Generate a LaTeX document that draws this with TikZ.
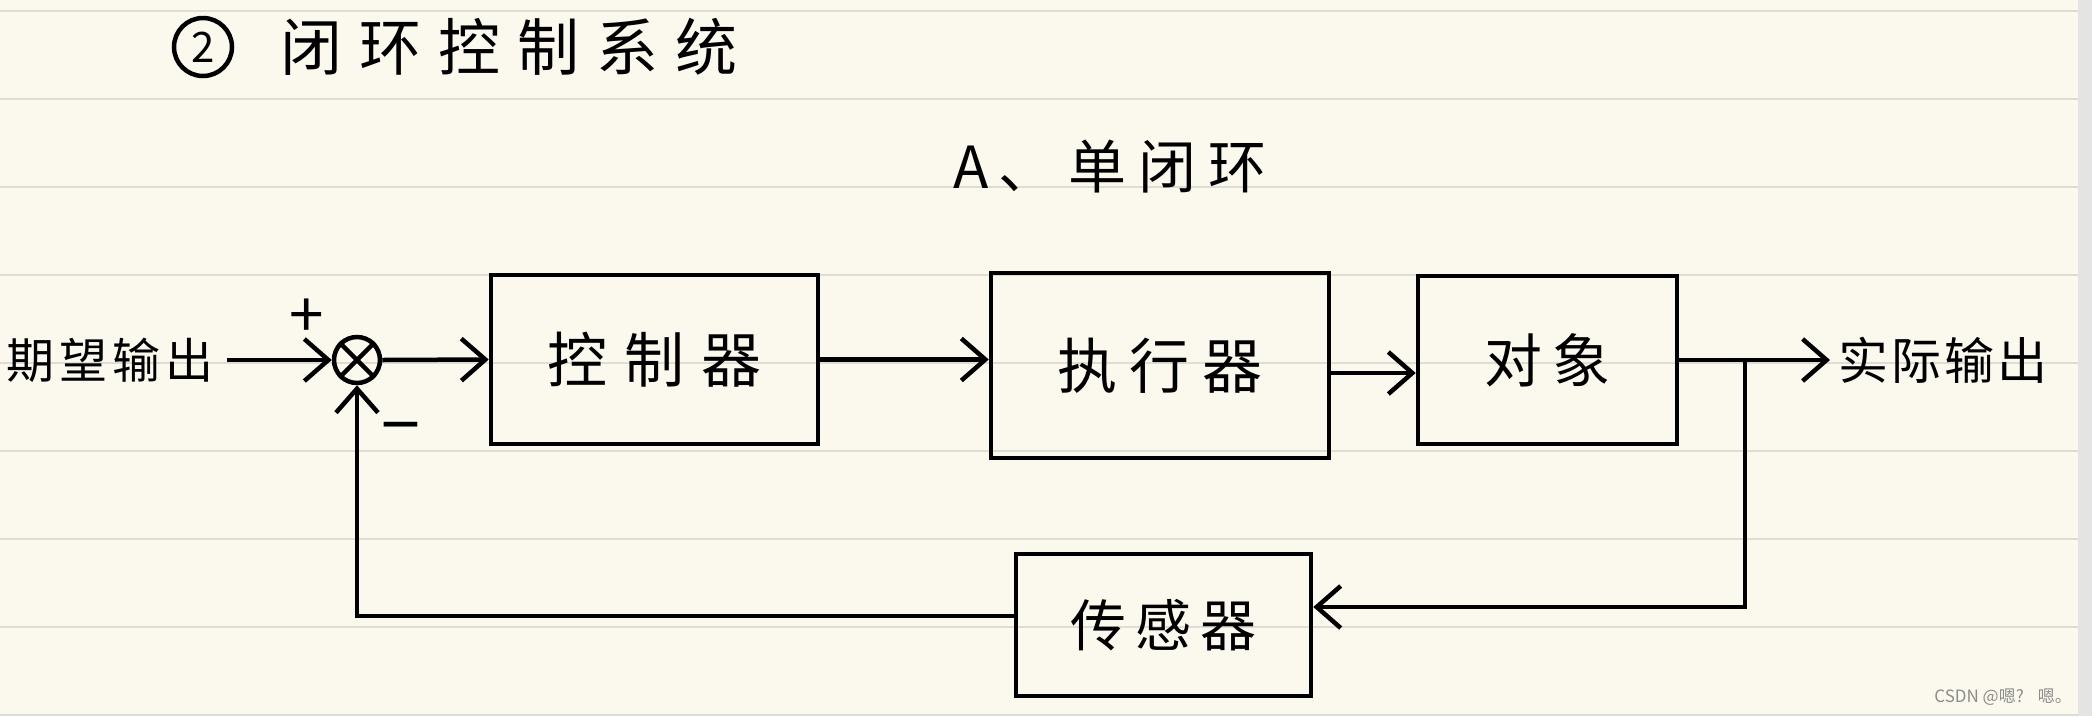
\documentclass[tikz,border=0pt]{standalone}
\usepackage{fontspec}
\setmainfont{Noto Sans CJK SC}
\usetikzlibrary{arrows.meta}
\definecolor{paper}{HTML}{FBF9EE}
\definecolor{rulec}{HTML}{DFDDD3}
\definecolor{band}{HTML}{E4E4E2}
\definecolor{wm}{HTML}{8C8C8C}
\newcommand\cg[1][14pt]{\hspace{#1}}
\newcommand\fs[1]{\fontsize{#1}{#1}\selectfont}
\begin{document}
\begin{tikzpicture}[x=1pt,y=-1pt,
  ink/.style={line width=4.5pt, black},
  arr/.style={ink, -{Straight Barb[length=24pt,width=42pt]}},
  blk/.style={draw, line width=4.5pt, inner sep=0pt},
  rl/.style={rulec, line width=2pt}]
\useasboundingbox (0,0) rectangle (2092,716);
\fill[paper] (0,0) rectangle (2092,716);
\fill[band] (2078,0) rectangle (2092,716);
% ruled lines
\foreach \yy in {11,99,187,275,363,451,539,627,715}
  \draw[rl] (0,\yy) -- (2078,\yy);
% title
\node[draw, circle, line width=4.5pt, minimum size=58pt, inner sep=0pt, font=\fs{42pt}] (num) at (203,47) {2};
\node[anchor=west, inner sep=0pt, font=\fs{62pt}] (title) at (280,47) {闭\cg[17pt]环\cg[17pt]控\cg[17pt]制\cg[17pt]系\cg[17pt]统};
\node[inner sep=0pt, font=\fs{58pt}] (sub) at (1110,167) {A\cg[10pt]、\cg[12pt]单\cg[12pt]闭\cg[12pt]环};
% blocks
\node[blk, minimum width=327pt, minimum height=169pt, font=\fs{60pt}] (c) at (654.5,359.5) {控\cg[17pt]制\cg[17pt]器};
\node[blk, minimum width=338pt, minimum height=185pt, font=\fs{60pt}] (a) at (1160,365.5) {执\cg[13pt]行\cg[13pt]器};
\node[blk, minimum width=259pt, minimum height=168pt, font=\fs{58pt}] (o) at (1547.5,360) {对\cg[11pt]象};
\node[blk, minimum width=295pt, minimum height=142pt, font=\fs{56pt}] (f) at (1163.5,625) {传\cg[9pt]感\cg[9pt]器};
% sum junction
\node[draw, circle, line width=4.5pt, minimum size=46pt, inner sep=0pt] (s) at (357,360) {};
\draw[ink] (s.north east) -- (s.south west);
\draw[ink] (s.north west) -- (s.south east);
\node[font=\fs{62pt}, inner sep=0pt] (plus) at (307,318) {+};
\node[font=\fs{70pt}, inner sep=0pt] (minus) at (401,436) {−};
% input / output texts
\node[inner sep=0pt, font=\fs{48pt}] (in) at (110,360) {期\cg[5pt]望\cg[5pt]输\cg[5pt]出};
\node[anchor=west, inner sep=0pt, font=\fs{50pt}] (outt) at (1838,360) {实\cg[3pt]际\cg[3pt]输\cg[3pt]出};
\coordinate (inS) at (227,360);
\coordinate (br) at (1745,360);
\coordinate (outE) at (1830,360);
% connectors
\draw[arr] (inS) -- (s.west);
\draw[arr] (s.east) -- (c.west);
\draw[arr] (c.east) -- (c.east -| a.west);
\draw[arr] ([yshift=-7.5pt]a.east) -- ([yshift=-7.5pt]a.east -| o.west);
\draw[arr] (o.east) -- (outE);
\draw[arr] (br) |- ([yshift=18pt]f.east);
\draw[arr] ([yshift=9pt]f.west) -| (s.south);
% watermark
\node[anchor=east, inner sep=0pt, text=wm, font=\fs{17pt}] (wmk) at (2072,697) {CSDN @嗯?\hspace{14pt}嗯。};
\end{tikzpicture}
\end{document}
